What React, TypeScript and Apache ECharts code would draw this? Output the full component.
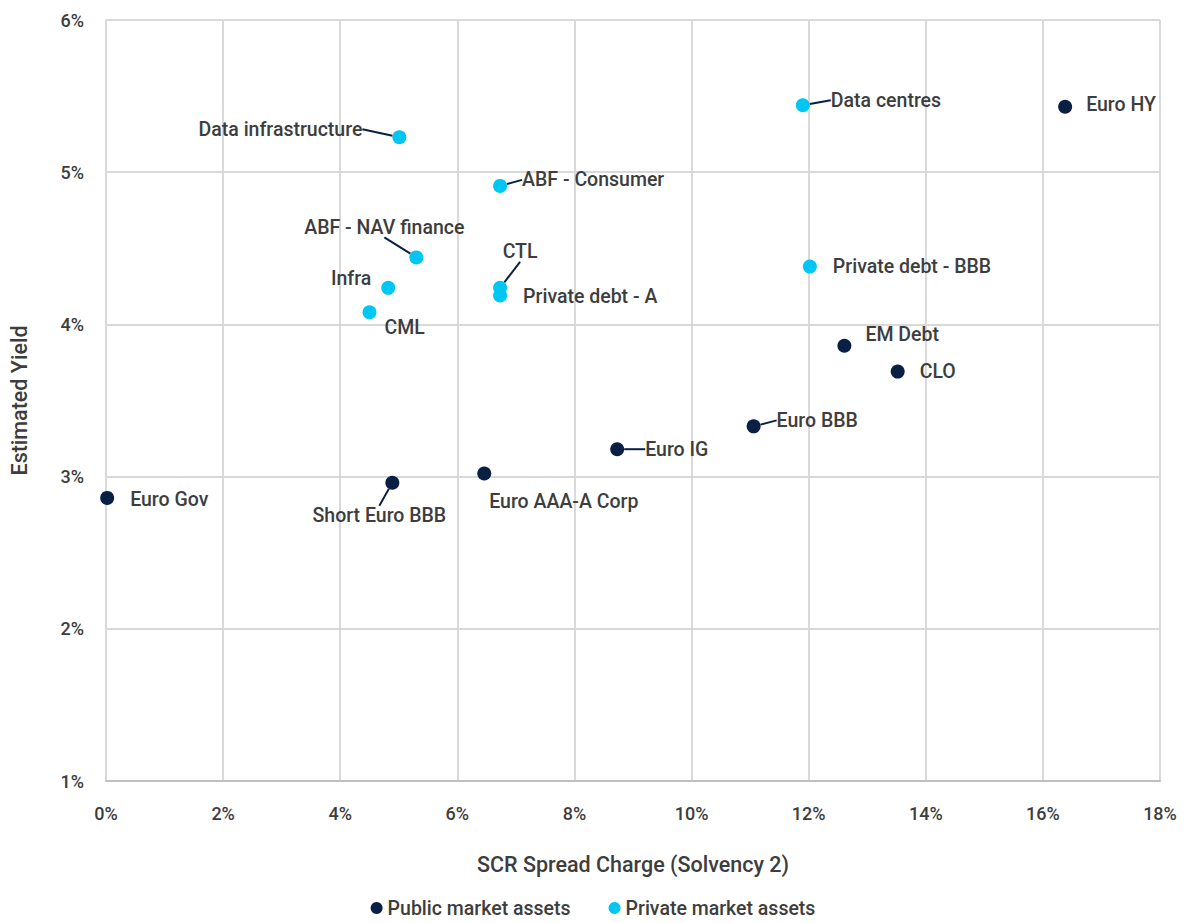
import React, { useEffect, useRef } from "react";
import * as echarts from "echarts";

const publicNames = ["Euro HY", "EM Debt", "CLO", "Euro BBB", "Euro IG", "Euro AAA-A Corp", "Short Euro BBB", "Euro Gov"];
const publicX = [16.38, 12.61, 13.52, 11.06, 8.73, 6.46, 4.89, 0.02];
const publicY = [5.43, 3.86, 3.69, 3.33, 3.18, 3.02, 2.96, 2.86];

const privateNames = ["Data infrastructure", "Data centres", "ABF - Consumer", "ABF - NAV finance", "Infra", "CML", "CTL", "Private debt - A", "Private debt - BBB"];
const privateX = [5.01, 11.9, 6.73, 5.3, 4.82, 4.5, 6.73, 6.73, 12.02];
const privateY = [5.23, 5.44, 4.91, 4.44, 4.24, 4.08, 4.24, 4.19, 4.38];

// label placement: [position, dx, dy, guide line]
const publicLabel: [string, number, number, boolean][] = [
  ["right", 9, -2, false],
  ["right", 9, -11, false],
  ["right", 10, 0, false],
  ["right", 11, -6, true],
  ["right", 16, 0, true],
  ["right", -7, 28, false],
  ["bottom", -13, 11, true],
  ["right", 11, 2, false],
];
const privateLabel: [string, number, number, boolean][] = [
  ["left", -25, -8, true],
  ["right", 16, -5, true],
  ["right", 10, -6, true],
  ["top", -32, -8, true],
  ["left", -5, -9, false],
  ["right", 3, 15, false],
  ["top", 20, -14, true],
  ["right", 11, 1, false],
  ["right", 11, 0, false],
];

const FONT = "Roboto, 'Noto Sans', sans-serif";
const TEXT = "#3d3d3d";
const NAVY = "#0a1f44";
const CYAN = "#00c6f4";

function build(names: string[], xs: number[], ys: number[], lab: [string, number, number, boolean][]) {
  return names.map((n, i) => ({
    name: n,
    value: [xs[i], ys[i]],
    label: { position: lab[i][0] },
    labelLine: { show: lab[i][3] },
  }));
}

export default function App() {
  const ref = useRef<HTMLDivElement>(null);
  useEffect(() => {
    if (!ref.current) return;
    const chart = echarts.init(ref.current, undefined, { renderer: "svg" });
    const labelStyle = {
      show: true,
      formatter: "{b}",
      color: TEXT,
      fontSize: 19.5,
      fontWeight: 500,
      fontFamily: FONT,
      distance: 5,
    };
    const lineStyle = { color: NAVY, width: 2 };
    chart.setOption({
      animation: false,
      backgroundColor: "#ffffff",
      textStyle: { fontFamily: FONT },
      grid: { left: 104, right: 26, top: 20, bottom: 142, containLabel: false },
      xAxis: {
        type: "value",
        min: 0,
        max: 18,
        interval: 2,
        name: "SCR Spread Charge (Solvency 2)",
        nameLocation: "middle",
        nameGap: 72,
        nameMoveOverlap: false,
        nameTextStyle: { color: TEXT, fontSize: 21.5, fontWeight: 500, fontFamily: FONT },
        axisLabel: { formatter: "{value}%", color: TEXT, fontSize: 18, fontWeight: 500, fontFamily: FONT, margin: 23 },
        axisLine: { show: true, lineStyle: { color: "#bfbfbf", width: 2 } },
        axisTick: { show: false },
        splitLine: { show: true, lineStyle: { color: "#d9d9d9", width: 2 } },
      },
      yAxis: {
        type: "value",
        min: 1,
        max: 6,
        interval: 1,
        name: "Estimated Yield",
        nameLocation: "middle",
        nameGap: 76,
        nameMoveOverlap: false,
        nameTextStyle: { color: TEXT, fontSize: 21.5, fontWeight: 500, fontFamily: FONT },
        axisLabel: { formatter: "{value}%", color: TEXT, fontSize: 18, fontWeight: 500, fontFamily: FONT, margin: 22 },
        axisLine: { show: false },
        axisTick: { show: false },
        splitLine: { show: true, lineStyle: { color: "#d9d9d9", width: 2 } },
      },
      legend: {
        bottom: 0,
        left: "center",
        itemWidth: 12,
        itemHeight: 14,
        itemGap: 38,
        icon: "circle",
        textStyle: { color: TEXT, fontSize: 19.5, fontWeight: 500, fontFamily: FONT },
        data: ["Public market assets", "Private market assets"],
      },
      series: [
        {
          name: "Public market assets",
          type: "scatter",
          symbolSize: 14,
          itemStyle: { color: NAVY, opacity: 1 },
          label: labelStyle,
          labelLine: { show: false, lineStyle },
          labelLayout: (p: any) => ({ dx: publicLabel[p.dataIndex][1], dy: publicLabel[p.dataIndex][2] }),
          data: build(publicNames, publicX, publicY, publicLabel),
        },
        {
          name: "Private market assets",
          type: "scatter",
          symbolSize: 14,
          itemStyle: { color: CYAN, opacity: 1 },
          label: labelStyle,
          labelLine: { show: false, lineStyle },
          labelLayout: (p: any) => ({ dx: privateLabel[p.dataIndex][1], dy: privateLabel[p.dataIndex][2] }),
          data: build(privateNames, privateX, privateY, privateLabel),
        },
      ],
    });
    return () => chart.dispose();
  }, []);
  return <div ref={ref} style={{ position: "absolute", left: 0, top: 0, width: 1186, height: 923 }} />;
}
